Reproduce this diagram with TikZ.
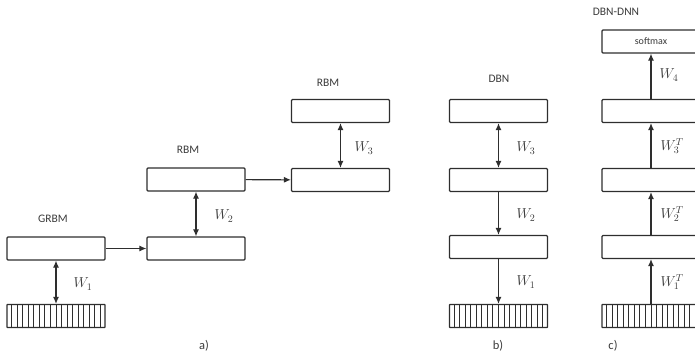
\documentclass[tikz,border=0pt]{standalone}
\usepackage{fontspec}
\setsansfont{Carlito}
\usetikzlibrary{calc,positioning,arrows.meta}
\definecolor{LineDark}{HTML}{2E2E2E}
\definecolor{TextDark}{HTML}{3A3A3A}

\tikzset{
  layer/.style={draw=LineDark, line width=1.2pt, rounded corners=1pt,
    minimum width=98pt, minimum height=23pt, inner sep=0pt},
  inputlayer/.style={layer, rounded corners=0.5pt},
  tag/.style={text=TextDark, font=\sffamily\fontsize{11.5}{12}\selectfont, inner sep=0pt},
  weight/.style={text=TextDark, font=\fontsize{14}{14}\selectfont, inner sep=0pt},
  link/.style={draw=LineDark, line width=1.1pt, -{Latex[length=7pt,width=6pt]}},
  duallink/.style={link, {Latex[length=7pt,width=6pt]}-{Latex[length=7pt,width=6pt]}}
}

\newcommand{\hatch}[1]{%
  \foreach \i in {1,...,17}
    \draw[LineDark, line width=1pt] ($(#1.south west)!\i/18!(#1.south east)$) -- ($(#1.north west)!\i/18!(#1.north east)$);
}

\begin{document}
\begin{tikzpicture}[x=1pt, y=-1pt]
  \useasboundingbox (0,0) rectangle (695,354);

  % a) greedy stack
  \node[layer] (grbm) at (56,248.5) {};
  \node[inputlayer] (ina) at (56,316) {};
  \hatch{ina}
  \node[layer] (rbmalo) at (196,248.5) {};
  \node[layer] (rbmahi) at (196,179.5) {};
  \node[layer] (rbmblo) at (340.5,180) {};
  \node[layer] (rbmbhi) at (340.5,111) {};

  \node[tag] (tgrbm) at (53,219) {GRBM};
  \node[tag] (trbma) at (188,150) {RBM};
  \node[tag] (trbmb) at (328,83) {RBM};
  \node[tag, font=\sffamily\fontsize{12.5}{13}\selectfont] (ta) at (204,346) {a)};

  \draw[duallink] (grbm) -- (ina);
  \draw[duallink] (rbmahi) -- (rbmalo);
  \draw[duallink] (rbmbhi) -- (rbmblo);
  \draw[link] (grbm) -- (rbmalo);
  \draw[link] (rbmahi) -- (rbmblo);

  \node[weight] (wa1) at (83,284) {$W_1$};
  \node[weight] (wa2) at (224,216) {$W_2$};
  \node[weight] (wa3) at (364,148) {$W_3$};

  % b) DBN
  \node[layer] (dbnc) at (498.5,111) {};
  \node[layer] (dbnb) at (498.5,180) {};
  \node[layer] (dbna) at (498.5,247) {};
  \node[inputlayer] (inb) at (498.5,316) {};
  \hatch{inb}
  \node[tag] (tdbn) at (499,79) {DBN};
  \node[tag, font=\sffamily\fontsize{12.5}{13}\selectfont] (tb) at (498,346) {b)};

  \draw[duallink] (dbnc) -- (dbnb);
  \draw[link] (dbnb) -- (dbna);
  \draw[link] (dbna) -- (inb);

  \node[weight] (wb3) at (526,148) {$W_3$};
  \node[weight] (wb2) at (526,215) {$W_2$};
  \node[weight] (wb1) at (526,282) {$W_1$};

  % c) DBN-DNN
  \node[layer, font=\sffamily\fontsize{10}{11}\selectfont, text=TextDark] (soft) at (651,41.5) {softmax};
  \node[layer] (dnnc) at (651,111) {};
  \node[layer] (dnnb) at (651,180) {};
  \node[layer] (dnna) at (651,247) {};
  \node[inputlayer] (inc) at (651,316) {};
  \hatch{inc}
  \node[tag] (tdnn) at (616,12) {DBN-DNN};
  \node[tag, font=\sffamily\fontsize{12.5}{13}\selectfont] (tc) at (613,346) {c)};

  \draw[link] (inc) -- (dnna);
  \draw[link] (dnna) -- (dnnb);
  \draw[link] (dnnb) -- (dnnc);
  \draw[link] (dnnc) -- (soft);

  \node[weight] (wc4) at (669,75) {$W_4$};
  \node[weight] (wc3) at (672,146) {$W_3^T$};
  \node[weight] (wc2) at (672,214) {$W_2^T$};
  \node[weight] (wc1) at (672,282) {$W_1^T$};
\end{tikzpicture}
\end{document}
